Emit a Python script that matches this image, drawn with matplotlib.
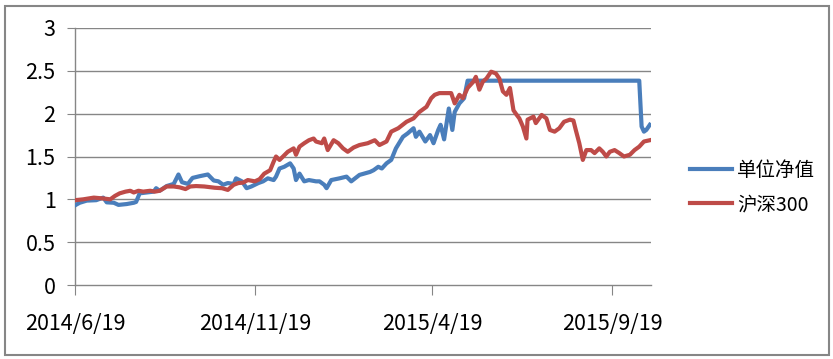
import datetime as dt
import matplotlib
matplotlib.use("Agg")
import matplotlib.pyplot as plt
from matplotlib.patches import Rectangle

plt.rcParams['font.family'] = ['Noto Sans CJK SC', 'DejaVu Sans']

start = dt.date(2014, 6, 19)

# days after 2014/6/19
nav_days = [0, 4, 10, 18, 24, 27, 33, 37, 44, 50, 52, 55, 61, 67, 69, 72, 78, 84, 88, 91,
            96, 100, 106, 113, 118, 122, 126, 130, 135, 137, 142, 146, 150, 156, 160, 164,
            169, 171, 174, 178, 183, 186, 188, 191, 195, 199, 205, 208, 212, 214, 218, 225,
            231, 235, 242, 251, 254, 258, 261, 265, 269, 273, 279, 283, 288, 290, 293, 298,
            302, 305, 309, 311, 314, 318, 321, 323, 327, 331, 334, 480, 482, 484, 486, 489]
nav = [0.93, 0.96, 0.985, 0.99, 1.02, 0.965, 0.96, 0.935, 0.945, 0.96, 0.97, 1.07, 1.08, 1.09,
       1.13, 1.10, 1.155, 1.18, 1.29, 1.20, 1.18, 1.25, 1.27, 1.29, 1.22, 1.21, 1.17, 1.19,
       1.18, 1.245, 1.21, 1.13, 1.15, 1.19, 1.21, 1.245, 1.225, 1.265, 1.36, 1.38, 1.42, 1.36,
       1.225, 1.30, 1.21, 1.225, 1.21, 1.21, 1.17, 1.13, 1.225, 1.245, 1.265, 1.21, 1.285,
       1.32, 1.34, 1.38, 1.36, 1.42, 1.46, 1.595, 1.73, 1.77, 1.83, 1.73, 1.79, 1.675, 1.75,
       1.655, 1.81, 1.87, 1.70, 2.06, 1.81, 2.02, 2.12, 2.18, 2.385, 2.385, 1.85, 1.79, 1.81,
       1.87]

hs300_days = [0, 7, 16, 24, 30, 34, 38, 43, 47, 50, 54, 58, 64, 68, 72, 78, 84, 89, 94, 98,
              103, 110, 119, 125, 130, 135, 139, 143, 147, 153, 157, 161, 166, 169, 171, 174,
              177, 181, 186, 188, 191, 195, 199, 203, 205, 210, 212, 215, 220, 224, 228, 232,
              237, 242, 249, 255, 259, 265, 269, 275, 282, 288, 293, 299, 303, 306, 310, 316,
              320, 323, 327, 330, 334, 339, 341, 344, 347, 350, 354, 358, 361, 364, 367, 370,
              373, 375, 378, 381, 384, 385, 390, 392, 397, 401, 404, 408, 412, 416, 421, 424,
              426, 429, 432, 435, 439, 442, 446, 449, 452, 455, 459, 463, 467, 472, 476, 480,
              484, 489]
hs300 = [0.99, 1.0, 1.02, 1.01, 1.0, 1.04, 1.07, 1.09, 1.10, 1.08, 1.10, 1.09, 1.10, 1.09,
         1.10, 1.15, 1.15, 1.14, 1.12, 1.15, 1.155, 1.15, 1.135, 1.13, 1.11, 1.17, 1.19, 1.195,
         1.225, 1.21, 1.235, 1.30, 1.34, 1.44, 1.50, 1.46, 1.50, 1.555, 1.595, 1.52, 1.615,
         1.655, 1.69, 1.71, 1.675, 1.655, 1.71, 1.575, 1.69, 1.655, 1.595, 1.555, 1.605, 1.634,
         1.655, 1.69, 1.634, 1.675, 1.79, 1.83, 1.905, 1.945, 2.02, 2.08, 2.18, 2.22, 2.24,
         2.24, 2.24, 2.12, 2.22, 2.18, 2.30, 2.375, 2.43, 2.28, 2.375, 2.41, 2.49, 2.47, 2.41,
         2.26, 2.22, 2.30, 2.04, 2.00, 1.945, 1.85, 1.71, 1.93, 1.965, 1.89, 1.985, 1.945,
         1.81, 1.79, 1.83, 1.905, 1.93, 1.92, 1.81, 1.655, 1.46, 1.575, 1.575, 1.54, 1.595,
         1.555, 1.50, 1.555, 1.575, 1.54, 1.50, 1.52, 1.575, 1.615, 1.675, 1.69]

tick_dates = ['2014/6/19', '2014/11/19', '2015/4/19', '2015/9/19']
y_ticks = [0, 0.5, 1, 1.5, 2, 2.5, 3]
series_names = ['单位净值', '沪深300']


def to_dates(days):
    return [start + dt.timedelta(days=d) for d in days]


fig = plt.figure(figsize=(8.33, 3.59), dpi=100)
ax = fig.add_axes([75 / 833, 1 - 285 / 359, (651 - 75) / 833, (285 - 28) / 359])

for yv in y_ticks[1:]:
    ax.axhline(yv, color='#868686', lw=1, zorder=1)

ax.plot(to_dates(nav_days), nav, color='#4A7EBB', lw=3.0, label=series_names[0], zorder=3,
        solid_joinstyle='round')
ax.plot(to_dates(hs300_days), hs300, color='#BE4B48', lw=3.0, label=series_names[1], zorder=3,
        solid_joinstyle='round')

ax.set_ylim(0, 3)
ax.set_yticks(y_ticks)
ax.set_yticklabels([('%g' % v) for v in y_ticks], fontsize=15.5)
ax.set_xlim(start, start + dt.timedelta(days=490))
ticks = [dt.datetime.strptime(s, '%Y/%m/%d').date() for s in tick_dates]
ax.set_xticks(ticks)
ax.set_xticklabels(tick_dates, fontsize=15.5)

for s in ['top', 'right']:
    ax.spines[s].set_visible(False)
for s in ['left', 'bottom']:
    ax.spines[s].set_color('#868686')
    ax.spines[s].set_linewidth(1)
ax.tick_params(axis='y', length=6, color='#868686', pad=8)
ax.tick_params(axis='x', length=7, color='#868686', pad=13)

fig.legend(loc='upper left', bbox_to_anchor=(672 / 833, 1 - 142 / 359), frameon=False,
           fontsize=14, handlelength=2.2, handletextpad=0.25, labelspacing=0.7)

fig.patches.append(Rectangle((4.5 / 833, 4.5 / 359), 824 / 833, 349 / 359, transform=fig.transFigure,
                             fill=False, edgecolor='#868686', lw=1.5))

fig.savefig('out.png', dpi=100)
